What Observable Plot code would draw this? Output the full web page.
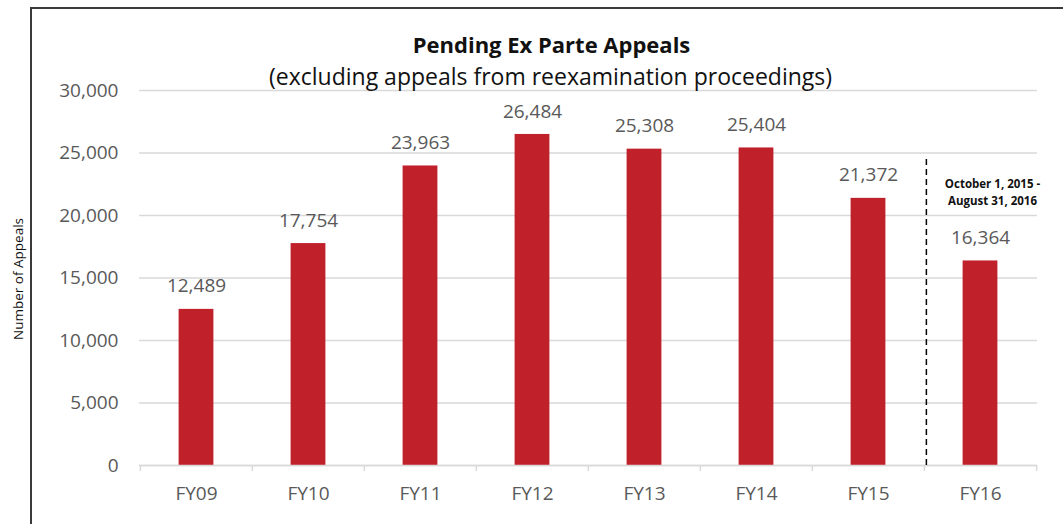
<!DOCTYPE html>
<html>
<head>
<meta charset="utf-8">
<script src="https://cdn.jsdelivr.net/npm/d3@7"></script>
<script src="https://cdn.jsdelivr.net/npm/@observablehq/plot@0.6"></script>
<style>
  html, body { margin: 0; padding: 0; background: #fff; overflow: hidden; }
  #wrap { position: relative; width: 1063px; height: 524px; }
  #frame { position: absolute; left: 30px; top: 7px; width: 1100px; height: 600px;
           border-left: 2px solid #3a3a3a; border-top: 2px solid #3a3a3a; }
  #chart { position: absolute; left: 0; top: 0; }
  #ylabel { position: absolute; left: 19px; top: 279px; transform: translate(-50%, -50%) rotate(-90deg);
            font-family: 'Open Sans', sans-serif; font-size: 13.5px; color: #111; white-space: nowrap; line-height: 1; }
</style>
</head>
<body>
<div id="wrap"><div id="frame"></div><div id="chart"></div><div id="ylabel"></div></div>
<script>
const categories = ["FY09", "FY10", "FY11", "FY12", "FY13", "FY14", "FY15", "FY16"];
const values = [12489, 17754, 23963, 26484, 25308, 25404, 21372, 16364];
const yTicks = [0, 5000, 10000, 15000, 20000, 25000, 30000];
const titleText = "Pending Ex Parte Appeals";
const subtitleText = "(excluding appeals from reexamination proceedings)";
const yLabel = "Number of Appeals";
const noteLines = ["October 1, 2015 -", "August 31, 2016"];
const dividerBefore = "FY16";
const dividerTop = 24800;
const noteY = 21960;

const data = categories.map((c, i) => ({cat: c, value: values[i]}));
const fmt = d3.format(",");
const gray = "#595959";
const half = (1037 - 139) / categories.length / 2;

const chart = Plot.plot({
  width: 1063,
  height: 524,
  marginLeft: 139,
  marginRight: 26,
  marginTop: 90,
  marginBottom: 59,
  x: {domain: categories, padding: 0, axis: null},
  y: {domain: [0, 30000], axis: null},
  style: {fontFamily: "'Open Sans', sans-serif", background: "transparent", overflow: "visible"},
  marks: [
    Plot.gridY(yTicks, {stroke: "#d9d9d9", strokeOpacity: 1, strokeWidth: 1.3}),
    Plot.text(yTicks, {y: d => d, frameAnchor: "left", dx: -21, textAnchor: "end", text: d => fmt(d), fontSize: 19, fill: gray}),
    Plot.barY(data, {x: "cat", y: "value", fill: "#C0202A", insetLeft: 38.6, insetRight: 38.6}),
    Plot.ruleY([0], {stroke: "#d9d9d9", strokeWidth: 1.5}),
    Plot.ruleX(categories, {x: d => d, dx: -half, stroke: "#d9d9d9", strokeWidth: 1.5, insetTop: 375, insetBottom: -6}),
    Plot.ruleX([categories[categories.length - 1]], {x: d => d, dx: half, stroke: "#d9d9d9", strokeWidth: 1.5, insetTop: 375, insetBottom: -6}),
    Plot.text(categories, {x: d => d, frameAnchor: "bottom", lineAnchor: "middle", dy: 28, fontSize: 19, fill: gray}),
    Plot.text(data, {x: "cat", y: "value", text: d => fmt(d.value), dy: -23, fontSize: 19, fill: gray}),
    Plot.ruleX([dividerBefore], {x: d => d, dx: -half + 2, y1: 0, y2: dividerTop, stroke: "#000", strokeWidth: 1.5, strokeDasharray: "6,4"}),
    Plot.text([{cat: dividerBefore, y: noteY, t: noteLines.join("\n")}], {x: "cat", y: "y", text: "t", dx: 12, fontSize: 11.5, fontWeight: "bold", lineHeight: 1.5, fill: "#111"}),
    Plot.text([titleText], {frameAnchor: "top", lineAnchor: "middle", dx: -37, dy: -45, fontSize: 22, fontWeight: "bold", fill: "#111"}),
    Plot.text([subtitleText], {frameAnchor: "top", lineAnchor: "middle", dx: -38, dy: -13, fontSize: 23, fill: "#111"})
  ]
});
document.getElementById("chart").appendChild(chart);
document.getElementById("ylabel").textContent = yLabel;
</script>
</body>
</html>
